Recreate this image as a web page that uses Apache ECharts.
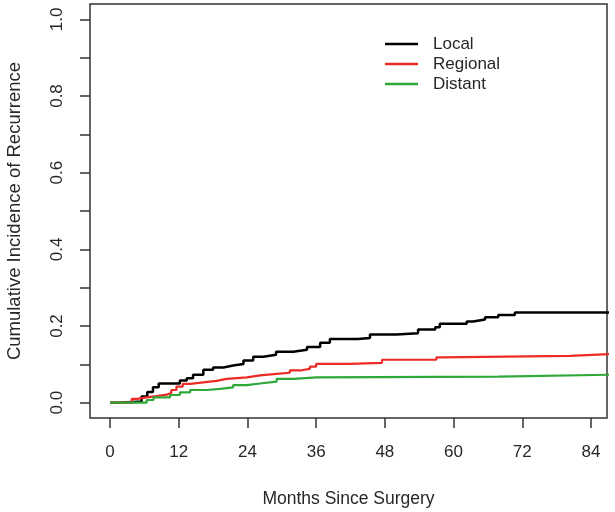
<!DOCTYPE html>
<html>
<head>
<meta charset="utf-8">
<script src="https://cdn.jsdelivr.net/npm/echarts@6/dist/echarts.min.js"></script>
<style>
  html, body { margin: 0; padding: 0; background: #fff; }
  #chart { width: 615px; height: 512px; }
</style>
</head>
<body>
<div id="chart"></div>
<script>
"use strict";

// months since surgery
const localMonths = [0, 1.5, 5.5, 6.5, 7.5, 8.5, 12.2, 13.4, 14.5, 16.3, 18, 19.8, 21.5, 23.3, 25, 26.8, 29, 32, 34.4, 36.7, 38.4, 43.3, 45.4, 50, 53.8, 56.8, 57.6, 62.3, 63.4, 65.5, 67.8, 70.7, 88];
const localValues = [0, 0.003, 0.016, 0.028, 0.04, 0.05, 0.058, 0.064, 0.073, 0.086, 0.092, 0.097, 0.101, 0.11, 0.12, 0.125, 0.133, 0.138, 0.145, 0.156, 0.166, 0.169, 0.178, 0.181, 0.191, 0.197, 0.206, 0.212, 0.217, 0.223, 0.229, 0.235, 0.235];

const regionalMonths = [0, 3.8, 4.7, 6.4, 8.1, 9.9, 10.7, 11.6, 12.7, 14, 16.3, 18.6, 20.4, 23.9, 26.2, 29.1, 31.4, 33.2, 34.9, 36, 41.9, 47.5, 57, 58, 80.3, 88];
const regionalValues = [0, 0.01, 0.014, 0.017, 0.021, 0.025, 0.033, 0.042, 0.049, 0.053, 0.057, 0.062, 0.066, 0.071, 0.075, 0.078, 0.084, 0.088, 0.094, 0.101, 0.104, 0.112, 0.118, 0.122, 0.127, 0.127];

const distantMonths = [0, 6.4, 7.6, 10.5, 12.2, 14, 16.9, 19.2, 21.5, 23.9, 26.2, 29.1, 32, 36.1, 67.8, 88];
const distantValues = [0, 0.007, 0.014, 0.02, 0.027, 0.033, 0.036, 0.04, 0.046, 0.05, 0.055, 0.062, 0.066, 0.068, 0.073, 0.073];

const xTicks = [0, 12, 24, 36, 48, 60, 72, 84];
const yTicks = [0, 0.1, 0.2, 0.3, 0.4, 0.5, 0.6, 0.7, 0.8, 0.9, 1.0];
const yLabels = [0, 0.2, 0.4, 0.6, 0.8, 1.0];

const pairs = (xs, ys) => xs.map((x, i) => [x, ys[i]]);

const textColor = '#2a2626';
const font = 'Liberation Sans, Arial, sans-serif';

const chartDom = document.getElementById('chart');
const myChart = echarts.init(chartDom, null, { renderer: 'canvas' });

const option = {
    animation: false,
    backgroundColor: '#ffffff',
    grid: {
        left: 90,
        right: 8,
        top: 4,
        bottom: 94,
        outerBoundsMode: 'none',
        containLabel: false,
        show: true,
        borderColor: '#333',
        borderWidth: 1.5,
        backgroundColor: 'transparent'
    },
    legend: {
        orient: 'vertical',
        left: 380,
        top: 29,
        icon: 'rect',
        itemWidth: 33,
        itemHeight: 2.5,
        itemGap: 0,
        textStyle: {
            fontFamily: font,
            fontSize: 17,
            color: textColor,
            lineHeight: 20,
            padding: [0, 0, 0, 10]
        },
        data: ['Local', 'Regional', 'Distant']
    },
    xAxis: {
        type: 'value',
        min: -3.5,
        max: 86.8,
        name: 'Months Since Surgery',
        nameLocation: 'middle',
        nameGap: 72,
        nameTextStyle: { fontFamily: font, fontSize: 17.5, color: textColor },
        axisLine: { show: false, onZero: false },
        splitLine: { show: false },
        axisTick: {
            show: true,
            length: 10,
            customValues: xTicks,
            lineStyle: { color: '#333', width: 1.5 }
        },
        axisLabel: {
            customValues: xTicks,
            margin: 26,
            fontFamily: font,
            fontSize: 17,
            color: textColor
        }
    },
    yAxis: {
        type: 'value',
        min: -0.04,
        max: 1.04,
        name: 'Cumulative Incidence of Recurrence',
        nameLocation: 'middle',
        nameGap: 66,
        nameTextStyle: { fontFamily: font, fontSize: 18.5, color: textColor },
        axisLine: { show: false, onZero: false },
        splitLine: { show: false },
        axisTick: {
            show: true,
            length: 10,
            customValues: yTicks,
            lineStyle: { color: '#333', width: 1.5 }
        },
        axisLabel: {
            customValues: yLabels,
            rotate: 90,
            margin: 24,
            fontFamily: font,
            fontSize: 17,
            color: textColor,
            formatter: v => v.toFixed(1)
        }
    },
    series: [
        {
            name: 'Local',
            type: 'line',
            step: 'end',
            showSymbol: false,
            color: '#000000',
            lineStyle: { width: 2.5 },
            data: pairs(localMonths, localValues)
        },
        {
            name: 'Regional',
            type: 'line',
            step: 'end',
            showSymbol: false,
            color: '#ec2b26',
            lineStyle: { width: 2.2 },
            data: pairs(regionalMonths, regionalValues)
        },
        {
            name: 'Distant',
            type: 'line',
            step: 'end',
            showSymbol: false,
            color: '#2fa83a',
            lineStyle: { width: 2.2 },
            data: pairs(distantMonths, distantValues)
        }
    ]
};

option && myChart.setOption(option);
</script>
</body>
</html>
